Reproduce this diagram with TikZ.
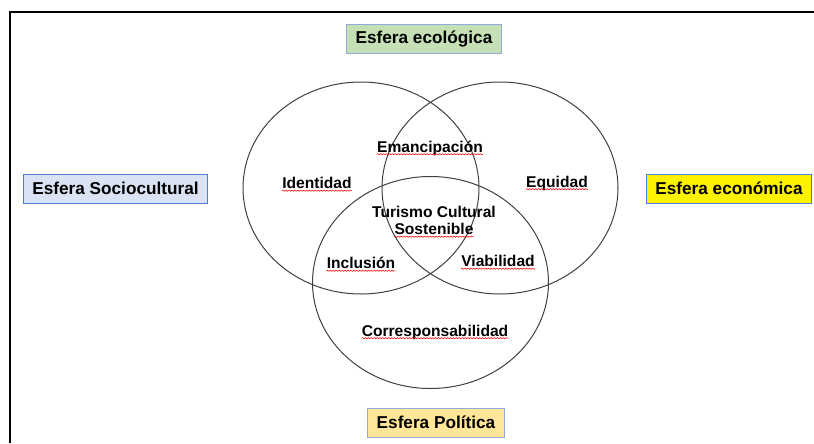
\documentclass[tikz,border=0pt]{standalone}
\usepackage{fontspec}
\setmainfont{Liberation Sans}
\usetikzlibrary{decorations.pathmorphing}

\definecolor{ecoGreen}{HTML}{C5E0B4}
\definecolor{socBlue}{HTML}{DAE3F3}
\definecolor{polGold}{HTML}{FFE699}
\definecolor{boxLine}{HTML}{4F7FD0}
\definecolor{boxLineLight}{HTML}{8FAADC}

\tikzset{
  sphere/.style={draw=boxLine, line width=0.75pt, rectangle, inner xsep=6.75pt, minimum height=21.75pt, font=\fontsize{12.9}{15}\selectfont\bfseries},
  value/.style={inner sep=0pt, font=\fontsize{11.7}{14}\selectfont\bfseries},
  spell/.style={draw=red, line width=0.4pt, decorate, decoration={snake, amplitude=0.45pt, segment length=2.2pt}},
  ring/.style={draw=black!75, line width=0.75pt}
}

\begin{document}
\begin{tikzpicture}[x=0.75pt, y=-0.75pt]
\useasboundingbox (0,0) rectangle (814,443);
\def \rx {118}
\def \ry {106}

\draw[line width=1.1pt] (10,443) |- (814,12);

\draw[ring] (361,188) ellipse [x radius=\rx, y radius=\ry];
\draw[ring] (500,188) ellipse [x radius=\rx, y radius=\ry];
\draw[ring] (430.5,282.5) ellipse [x radius=\rx, y radius=\ry];

\node[sphere, fill=ecoGreen, draw=boxLineLight] at (424,39) (eco) {Esfera ecológica};
\node[sphere, fill=socBlue] at (115.5,188.5) (soc) {Esfera Sociocultural};
\node[sphere, fill=yellow] at (729,188.5) (econ) {Esfera económica};
\node[sphere, fill=polGold, draw=boxLineLight] at (436,422.5) (pol) {Esfera Política};

\node[value] at (317,183) (ident) {Identidad};
\node[value] at (430,148) (eman) {Emancipación};
\node[value] at (557,183) (equi) {Equidad};
\node[value] at (434,212) (tur) {Turismo Cultural};
\node[value] at (434,229) (sost) {Sostenible};
\node[value] at (361,263) (incl) {Inclusión};
\node[value] at (498,261) (viab) {Viabilidad};
\node[value] at (435,332) (corr) {Corresponsabilidad};

\foreach \n in {ident,eman,equi,sost,incl,viab,corr}
  \draw[spell] ([yshift=-1.6pt]\n.base west) -- ([yshift=-1.6pt]\n.base east);

\end{tikzpicture}
\end{document}
